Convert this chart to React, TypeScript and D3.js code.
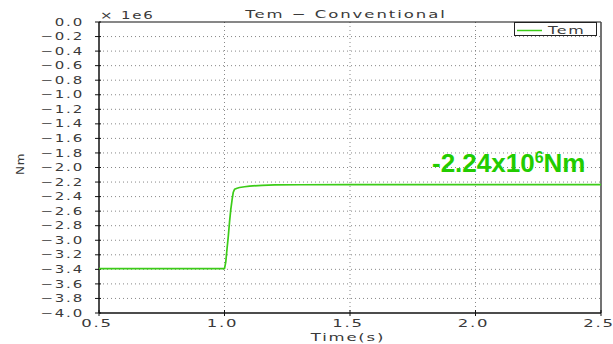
import React from "react";
import * as d3 from "d3";

const timeS = [0.5, 1.0, 1.005, 1.01, 1.015, 1.02, 1.025, 1.03, 1.035, 1.04, 1.05, 1.06, 1.08, 1.1, 1.15, 1.2, 1.3, 1.5, 1.8, 2.0, 2.5];
const temMNm = [-3.39, -3.39, -3.3, -3.12, -2.95, -2.75, -2.58, -2.45, -2.34, -2.3, -2.285, -2.275, -2.265, -2.255, -2.245, -2.24, -2.237, -2.235, -2.235, -2.235, -2.235];
const yTicks = d3.range(0, 21).map((i) => -i * 0.2);
const xTicks = [0.5, 1.0, 1.5, 2.0, 2.5];
const title = "Tem − Conventional";
const annotation = { main: "-2.24x10", sup: "6", unit: "Nm" };

const W = 613;
const H = 344;
const M = { left: 99, right: 601, top: 22, bottom: 313 };

const FONT = "DejaVu Sans";

function SText({ x, y, anchor = "start", size = 10, sx = 1.5, ls = 1, children, rotate = 0 }: any) {
  return (
    <text
      transform={`translate(${x},${y}) rotate(${rotate}) scale(${sx},1)`}
      textAnchor={anchor}
      fontFamily={FONT}
      fontSize={size}
      letterSpacing={ls}
      fill="#3a3a3a"
    >
      {children}
    </text>
  );
}

const fmt = (v: number) => {
  const s = Math.abs(v).toFixed(1);
  return v < -1e-9 ? "−" + s : s;
};

export default function App() {
  const x = d3.scaleLinear().domain([0.5, 2.5]).range([M.left, M.right]);
  const y = d3.scaleLinear().domain([-4, 0]).range([M.bottom, M.top]);
  const line = d3
    .line<number>()
    .x((_, i) => x(timeS[i]))
    .y((d) => y(d));

  return (
    <svg width={W} height={H} style={{ position: "absolute", left: 0, top: 0, background: "#fff" }}>
      <rect x={0} y={0} width={W} height={H} fill="#fff" />
      {yTicks.slice(1, -1).map((t) => (
        <line key={"gy" + t} x1={M.left} x2={M.right} y1={y(t)} y2={y(t)} stroke="#888" strokeWidth={1} strokeDasharray="1,3" />
      ))}
      {xTicks.slice(1, -1).map((t) => (
        <line key={"gx" + t} x1={x(t)} x2={x(t)} y1={M.top} y2={M.bottom} stroke="#888" strokeWidth={1} strokeDasharray="1,3" />
      ))}
      <line x1={M.left} x2={M.right} y1={M.top} y2={M.top} stroke="#111" strokeWidth={1.2} />
      <line x1={M.right} x2={M.right} y1={M.top} y2={M.bottom} stroke="#444" strokeWidth={1.5} />
      <line x1={M.left} x2={M.left} y1={M.top} y2={M.bottom} stroke="#111" strokeWidth={1.5} />
      <line x1={M.left} x2={M.right} y1={M.bottom} y2={M.bottom} stroke="#111" strokeWidth={1.5} />
      {yTicks.map((t) => (
        <g key={"yt" + t}>
          <line x1={M.left - 4} x2={M.left + 2} y1={y(t)} y2={y(t)} stroke="#111" strokeWidth={1} />
          <SText x={84} y={y(t) + 3.6} anchor="end" size={10} sx={1.5} ls={1.2}>
            {fmt(t)}
          </SText>
        </g>
      ))}
      {xTicks.map((t) => (
        <g key={"xt" + t}>
          <line x1={x(t)} x2={x(t)} y1={M.bottom - 3} y2={M.bottom + 3} stroke="#111" strokeWidth={1} />
          <SText x={x(t) - 2} y={327} anchor="middle" size={11} sx={1.5} ls={1.2}>
            {t.toFixed(1)}
          </SText>
        </g>
      ))}
      <path d={line(temMNm) || ""} fill="none" stroke="#3ccc18" strokeWidth={1.7} strokeLinejoin="round" />
      <SText x={346} y={18} anchor="middle" size={11} sx={1.5} ls={1.3}>
        {title}
      </SText>
      <SText x={100} y={19} anchor="start" size={10} sx={1.5} ls={1.2}>
        {"×  1e6"}
      </SText>
      <SText x={348} y={341} anchor="middle" size={11} sx={1.5} ls={1.2}>
        Time(s)
      </SText>
      <SText x={24} y={164} anchor="middle" size={10} sx={1.2} ls={0.5} rotate={-90}>
        Nm
      </SText>
      <rect x={514.5} y={22.5} width={82} height={13} fill="#fff" stroke="#222" strokeWidth={1} />
      <line x1={517} x2={542} y1={30.5} y2={30.5} stroke="#3ccc18" strokeWidth={1.5} />
      <SText x={548} y={34} anchor="start" size={11} sx={1.45} ls={1.2}>
        Tem
      </SText>
      <text x={432} y={172} fontFamily="Liberation Sans" fontWeight="bold" fontSize={26} fill="#22cc00">
        {annotation.main}
        <tspan fontSize={16} dy={-9}>
          {annotation.sup}
        </tspan>
        <tspan dy={9}>{annotation.unit}</tspan>
      </text>
    </svg>
  );
}
